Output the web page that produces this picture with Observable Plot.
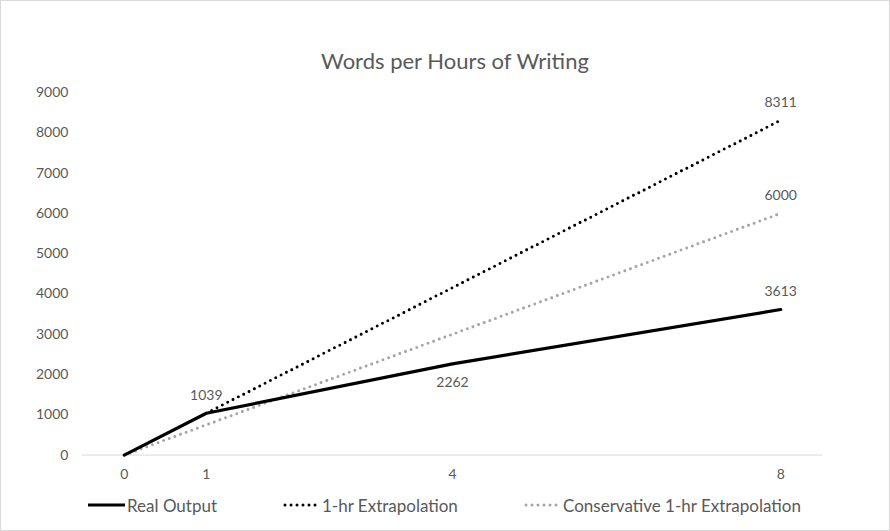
<!DOCTYPE html>
<html>
<head>
<meta charset="utf-8">
<script src="https://cdn.jsdelivr.net/npm/d3@7"></script>
<script src="https://cdn.jsdelivr.net/npm/@observablehq/plot@0.6"></script>
<style>
  html, body { margin: 0; padding: 0; background: #fff; }
  #frame { position: relative; width: 890px; height: 531px; box-sizing: border-box; border: 1px solid #d9d9d9; font-family: Lato, "Open Sans", sans-serif; color: #595959; overflow: hidden; }
  #title { position: absolute; left: 10px; top: 47px; width: 888px; text-align: center; font-size: 22px; line-height: 26px; }
  #chart { position: absolute; left: -1px; top: 79px; }
  #legend { position: absolute; top: 493px; left: 0; width: 888px; height: 22px; font-size: 17px; }
  .item { position: absolute; top: 0; display: flex; align-items: center; height: 22px; }
  .item svg { margin-right: 0px; }
</style>
</head>
<body>
<div id="frame">
  <div id="title">Words per Hours of Writing</div>
  <div id="chart"></div>
  <div id="legend"></div>
</div>
<script>
const hours = [0, 1, 4, 8];
const realOutput = [0, 1039, 2262, 3613];
const extrapHours = [1, 8];
const extrapolation = [1039, 8311];
const conservHours = [0, 8];
const conservative = [0, 6000];
const xTicks = [0, 1, 4, 8];
const yTicks = [0, 1000, 2000, 3000, 4000, 5000, 6000, 7000, 8000, 9000];
const seriesNames = ["Real Output", "1-hr Extrapolation", "Conservative 1-hr Extrapolation"];

const real = hours.map((h, i) => ({x: h, y: realOutput[i]}));
const ext = extrapHours.map((h, i) => ({x: h, y: extrapolation[i]}));
const cons = conservHours.map((h, i) => ({x: h, y: conservative[i]}));

const labelsAbove = [
  {x: hours[1], y: realOutput[1]},
  {x: hours[3], y: realOutput[3]},
  {x: extrapHours[1], y: extrapolation[1]},
  {x: conservHours[1], y: conservative[1]}
];
const labelsBelow = [{x: hours[2], y: realOutput[2]}];

const grey = "#a5a5a5";
const txt = "#595959";

const plot = Plot.plot({
  width: 890,
  height: 410,
  marginLeft: 82,
  marginRight: 67,
  marginTop: 12,
  marginBottom: 35,
  style: {fontFamily: "Lato, 'Open Sans', sans-serif", fontSize: "14px", color: txt, background: "transparent"},
  x: {domain: [-0.51, 8.51], ticks: xTicks, tickSize: 0, tickPadding: 14, tickFormat: d => String(d), label: null},
  y: {domain: [0, 9000], ticks: yTicks, tickSize: 0, tickPadding: 14, tickFormat: d => String(d), label: null},
  marks: [
    Plot.ruleY([0], {stroke: "#d9d9d9", strokeWidth: 1}),
    Plot.axisX({ticks: xTicks, tickSize: 0, tickPadding: 14, tickFormat: d => String(d), label: null, fill: txt}),
    Plot.axisY({ticks: yTicks, tickSize: 0, tickPadding: 14, tickFormat: d => String(d), label: null, fill: txt}),
    Plot.line(cons, {x: "x", y: "y", stroke: grey, strokeWidth: 3, strokeDasharray: "0 6", strokeLinecap: "round"}),
    Plot.line(ext, {x: "x", y: "y", stroke: "#000", strokeWidth: 3, strokeDasharray: "0 6", strokeLinecap: "round"}),
    Plot.line(real, {x: "x", y: "y", stroke: "#000", strokeWidth: 3.2, strokeLinejoin: "round"}),
    Plot.text(labelsAbove, {x: "x", y: "y", text: d => String(d.y), dy: -18, fill: txt, fontSize: 14}),
    Plot.text(labelsBelow, {x: "x", y: "y", text: d => String(d.y), dy: 19, fill: txt, fontSize: 14})
  ]
});
document.getElementById("chart").appendChild(plot);

// legend
const legendItems = [
  {name: seriesNames[0], left: 87, stroke: "#000", dash: null},
  {name: seriesNames[1], left: 282, stroke: "#000", dash: "0 6"},
  {name: seriesNames[2], left: 523, stroke: grey, dash: "0 6"}
];
const legend = document.getElementById("legend");
legendItems.forEach(it => {
  const div = document.createElement("div");
  div.className = "item";
  div.style.left = it.left + "px";
  const ns = "http://www.w3.org/2000/svg";
  const s = document.createElementNS(ns, "svg");
  s.setAttribute("width", 39); s.setAttribute("height", 10);
  const l = document.createElementNS(ns, "line");
  l.setAttribute("x1", 2); l.setAttribute("x2", 37); l.setAttribute("y1", 5); l.setAttribute("y2", 5);
  l.setAttribute("stroke", it.stroke); l.setAttribute("stroke-width", 3);
  if (it.dash) { l.setAttribute("stroke-dasharray", it.dash); l.setAttribute("stroke-linecap", "round"); }
  else { l.setAttribute("x1", 0); }
  s.appendChild(l);
  div.appendChild(s);
  const t = document.createElement("span");
  t.textContent = it.name;
  div.appendChild(t);
  legend.appendChild(div);
});
</script>
</body>
</html>
